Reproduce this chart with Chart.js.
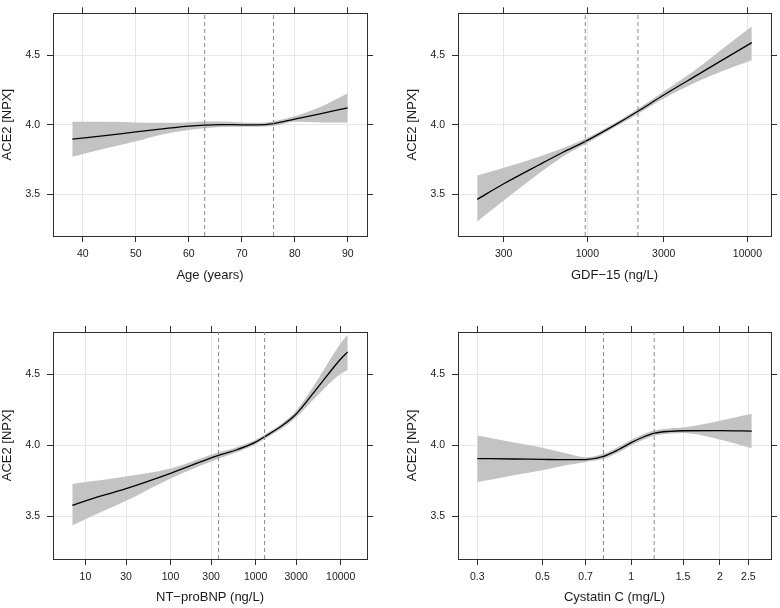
<!DOCTYPE html>
<html>
<head>
<meta charset="utf-8">
<script src="https://cdn.jsdelivr.net/npm/chart.js@4.4.1/dist/chart.umd.min.js"></script>
<style>
  html, body { margin: 0; padding: 0; background: #ffffff; }
  #wrap { position: relative; width: 780px; height: 608px; overflow: hidden; background: #fff; }
  canvas { position: absolute; }
</style>
</head>
<body>
<div id="wrap">
  <canvas id="c1" width="390" height="304" style="left:0;top:0"></canvas>
  <canvas id="c2" width="390" height="304" style="left:390px;top:0"></canvas>
  <canvas id="c3" width="390" height="304" style="left:0;top:304px"></canvas>
  <canvas id="c4" width="390" height="304" style="left:390px;top:304px"></canvas>
</div>
<script>
// ---- shared y axis ----
const yTitle = "ACE2 [NPX]";
const yMin = 3.2, yMax = 4.8;
const yTicks = [3.5, 4.0, 4.5];
const yTickLabels = ["3.5", "4.0", "4.5"];

// ---- Panel 1: Age ----
const ageX   = [38, 45, 50, 55, 60, 63, 66, 70, 73, 76, 80, 85, 90];
const ageEst = [3.896, 3.925, 3.948, 3.970, 3.990, 3.997, 4.000, 3.999, 3.999, 4.008, 4.040, 4.080, 4.120];
const ageHi  = [4.021, 4.020, 4.016, 4.014, 4.016, 4.022, 4.022, 4.016, 4.013, 4.025, 4.060, 4.130, 4.225];
const ageLo  = [3.770, 3.835, 3.880, 3.930, 3.962, 3.975, 3.983, 3.985, 3.985, 3.990, 4.020, 4.016, 4.015];
const ageCuts = [63, 76];
const ageTicks = [40, 50, 60, 70, 80, 90];
const ageTickLabels = ["40", "50", "60", "70", "80", "90"];
const ageRange = [34.36, 93.64];

// ---- Panel 2: GDF-15 ----
const gdfX   = [205, 300, 500, 700, 1000, 1500, 2070, 3000, 5000, 7000, 10650];
const gdfEst = [3.463, 3.575, 3.712, 3.800, 3.887, 4.000, 4.096, 4.213, 4.365, 4.465, 4.589];
const gdfHi  = [3.634, 3.690, 3.770, 3.830, 3.905, 4.015, 4.115, 4.238, 4.415, 4.545, 4.705];
const gdfLo  = [3.305, 3.455, 3.650, 3.770, 3.868, 3.985, 4.077, 4.188, 4.315, 4.385, 4.462];
const gdfCuts = [970, 2070];
const gdfTicks = [300, 1000, 3000, 10000];
const gdfTickLabels = ["300", "1000", "3000", "10000"];
const gdfRange = [155.5, 14040];

// ---- Panel 3: NT-proBNP ----
const ntX   = [7, 10, 30, 100, 300, 367, 600, 1000, 1276, 2000, 3000, 5000, 10000, 12100];
const ntEst = [3.578, 3.610, 3.696, 3.804, 3.912, 3.930, 3.970, 4.024, 4.062, 4.135, 4.222, 4.385, 4.610, 4.660];
const ntHi  = [3.729, 3.742, 3.782, 3.838, 3.935, 3.952, 3.988, 4.040, 4.078, 4.152, 4.245, 4.435, 4.720, 4.780];
const ntLo  = [3.436, 3.480, 3.610, 3.768, 3.888, 3.908, 3.952, 4.008, 4.046, 4.118, 4.200, 4.335, 4.505, 4.530];
const ntCuts = [367, 1276];
const ntTicks = [10, 30, 100, 300, 1000, 3000, 10000];
const ntTickLabels = ["10", "30", "100", "300", "1000", "3000", "10000"];
const ntRange = [4.155, 20390];

// ---- Panel 4: Cystatin C ----
const cysX   = [0.3, 0.4, 0.5, 0.6, 0.7, 0.8, 0.9, 1.0, 1.1, 1.2, 1.35, 1.5, 2.0, 2.567];
const cysEst = [3.908, 3.905, 3.902, 3.900, 3.901, 3.922, 3.968, 4.020, 4.060, 4.087, 4.100, 4.104, 4.105, 4.102];
const cysHi  = [4.071, 4.022, 3.984, 3.945, 3.918, 3.940, 3.988, 4.040, 4.080, 4.106, 4.120, 4.126, 4.175, 4.224];
const cysLo  = [3.742, 3.790, 3.826, 3.860, 3.884, 3.905, 3.949, 4.000, 4.040, 4.068, 4.083, 4.088, 4.042, 3.980];
const cysCuts = [0.805, 1.197];
const cysTicks = [0.3, 0.5, 0.7, 1, 1.5, 2, 2.5];
const cysTickLabels = ["0.3", "0.5", "0.7", "1", "1.5", "2", "2.5"];
const cysRange = [0.2581, 2.984];

const FONT = "'Liberation Sans', Arial, Helvetica, sans-serif";
const TXT = '#1a1a1a';
const BORDER = '#2e2e2e';
const GRID = '#e6e6e6';
const BAND = '#c3c3c3';

function pts(xs, ys) { return xs.map((x, i) => ({ x: x, y: ys[i] })); }

function fixedTicks(vals) {
  return function (scale) { scale.ticks = vals.map(v => ({ value: v })); };
}

function makePanel(id, cfg) {
  const cutSets = cfg.cuts.map(c => ({
    type: 'line', order: 0,
    data: [{ x: c, y: yMin }, { x: c, y: yMax }],
    borderColor: '#8a8a8a', borderWidth: 1, borderDash: [4, 3],
    pointRadius: 0, fill: false, tension: 0
  }));
  const box = cfg.box;
  new Chart(document.getElementById(id), {
    type: 'line',
    data: {
      datasets: [
        { order: 4, data: pts(cfg.x, cfg.lo), borderWidth: 0, borderColor: 'rgba(0,0,0,0)', pointRadius: 0, fill: false,
          tension: 0.4, cubicInterpolationMode: 'monotone' },
        { order: 3, data: pts(cfg.x, cfg.hi), borderWidth: 0, borderColor: 'rgba(0,0,0,0)', backgroundColor: BAND,
          pointRadius: 0, fill: '-1', tension: 0.4, cubicInterpolationMode: 'monotone' },
        { order: 1, data: pts(cfg.x, cfg.est), borderColor: '#000', borderWidth: 1.3, pointRadius: 0, fill: false,
          tension: 0.4, cubicInterpolationMode: 'monotone' },
        ...cutSets
      ]
    },
    options: {
      responsive: false,
      animation: false,
      events: [],
      layout: { padding: 0 },
      plugins: { legend: { display: false }, tooltip: { enabled: false } },
      scales: {
        x: {
          type: cfg.xType, position: 'bottom', min: cfg.range[0], max: cfg.range[1], bounds: 'data',
          afterBuildTicks: fixedTicks(cfg.ticks),
          afterFit: s => { s.height = box.bottom; },
          grid: { color: GRID, lineWidth: 1, drawTicks: true, tickLength: 6, tickColor: BORDER, tickWidth: 1 },
          border: { display: true, color: BORDER, width: 1 },
          ticks: { autoSkip: false, maxRotation: 0, padding: 6, color: TXT,
                   font: { family: FONT, size: 10.5 },
                   callback: (v, i) => cfg.tickLabels[i] },
          title: { display: true, text: cfg.xTitle, color: TXT, font: { family: FONT, size: 13 },
                   padding: { top: 0, bottom: cfg.xTitlePad } }
        },
        x2: {
          type: cfg.xType, axis: 'x', position: 'top', min: cfg.range[0], max: cfg.range[1], bounds: 'data',
          afterBuildTicks: fixedTicks(cfg.ticks),
          afterFit: s => { s.height = box.top; },
          grid: { drawOnChartArea: false, drawTicks: true, tickLength: 6, tickColor: BORDER, tickWidth: 1 },
          border: { display: true, color: BORDER, width: 1 },
          ticks: { display: false }
        },
        y: {
          type: 'linear', position: 'left', min: yMin, max: yMax, bounds: 'data',
          afterBuildTicks: fixedTicks(yTicks),
          afterFit: s => { s.width = box.left; },
          grid: { color: GRID, lineWidth: 1, drawTicks: true, tickLength: 6, tickColor: BORDER, tickWidth: 1 },
          border: { display: true, color: BORDER, width: 1 },
          ticks: { autoSkip: false, padding: 7, color: TXT, font: { family: FONT, size: 10.5 },
                   callback: (v, i) => yTickLabels[i] },
          title: { display: true, text: yTitle, color: TXT, font: { family: FONT, size: 13 },
                   padding: { top: cfg.yTitlePad, bottom: 0 } }
        },
        y2: {
          type: 'linear', axis: 'y', position: 'right', min: yMin, max: yMax, bounds: 'data',
          afterBuildTicks: fixedTicks(yTicks),
          afterFit: s => { s.width = box.right; },
          grid: { drawOnChartArea: false, drawTicks: true, tickLength: 6, tickColor: BORDER, tickWidth: 1 },
          border: { display: true, color: BORDER, width: 1 },
          ticks: { display: false }
        }
      }
    }
  });
}

makePanel('c1', { xType: 'linear', range: ageRange, ticks: ageTicks, tickLabels: ageTickLabels,
  x: ageX, est: ageEst, lo: ageLo, hi: ageHi, cuts: ageCuts, xTitle: 'Age (years)',
  box: { left: 53, right: 23, top: 8, bottom: 68 }, yTitlePad: 0, xTitlePad: 21 });
makePanel('c2', { xType: 'logarithmic', range: gdfRange, ticks: gdfTicks, tickLabels: gdfTickLabels,
  x: gdfX, est: gdfEst, lo: gdfLo, hi: gdfHi, cuts: gdfCuts, xTitle: 'GDF\u221215 (ng/L)',
  box: { left: 68, right: 9, top: 8, bottom: 68 }, yTitlePad: 15, xTitlePad: 21 });
makePanel('c3', { xType: 'logarithmic', range: ntRange, ticks: ntTicks, tickLabels: ntTickLabels,
  x: ntX, est: ntEst, lo: ntLo, hi: ntHi, cuts: ntCuts, xTitle: 'NT\u2212proBNP (ng/L)',
  box: { left: 53, right: 23, top: 28, bottom: 49 }, yTitlePad: 0, xTitlePad: 3 });
makePanel('c4', { xType: 'logarithmic', range: cysRange, ticks: cysTicks, tickLabels: cysTickLabels,
  x: cysX, est: cysEst, lo: cysLo, hi: cysHi, cuts: cysCuts, xTitle: 'Cystatin C (mg/L)',
  box: { left: 68, right: 9, top: 28, bottom: 49 }, yTitlePad: 15, xTitlePad: 3 });
</script>
</body>
</html>
